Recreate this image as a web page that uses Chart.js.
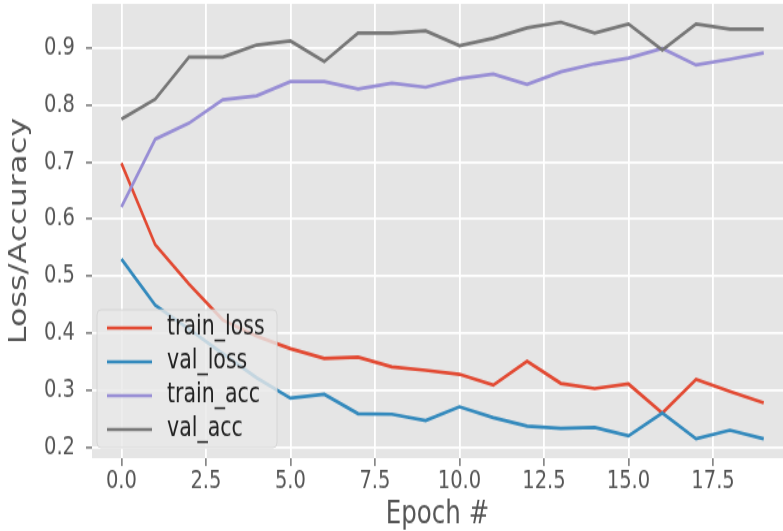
<!DOCTYPE html>
<html>
<head>
<meta charset="utf-8">
<script src="https://cdn.jsdelivr.net/npm/chart.js@4.4.1/dist/chart.umd.min.js"></script>
<style>
  html, body { margin: 0; padding: 0; background: #fff; }
  body { width: 783px; height: 531px; }
  #wrap { width: 783px; height: 408px; transform: scaleY(1.3015); transform-origin: 0 0; }
</style>
</head>
<body>
<div id="wrap"><canvas id="lossChart" width="783" height="408"></canvas></div>
<script>
const epochs = [0, 1, 2, 3, 4, 5, 6, 7, 8, 9, 10, 11, 12, 13, 14, 15, 16, 17, 18, 19];
const trainLoss = [0.698, 0.555, 0.486, 0.423, 0.395, 0.373, 0.356, 0.358, 0.341, 0.335, 0.328, 0.309, 0.351, 0.312, 0.303, 0.311, 0.260, 0.319, 0.298, 0.278];
const valLoss = [0.530, 0.449, 0.407, 0.364, 0.322, 0.286, 0.293, 0.259, 0.258, 0.247, 0.271, 0.252, 0.237, 0.233, 0.235, 0.220, 0.260, 0.215, 0.230, 0.215];
const trainAcc = [0.621, 0.740, 0.768, 0.809, 0.816, 0.841, 0.841, 0.828, 0.838, 0.831, 0.846, 0.854, 0.836, 0.858, 0.872, 0.882, 0.899, 0.870, 0.880, 0.891];
const valAcc = [0.775, 0.810, 0.884, 0.884, 0.905, 0.912, 0.876, 0.926, 0.926, 0.930, 0.904, 0.917, 0.935, 0.945, 0.926, 0.942, 0.896, 0.942, 0.933, 0.933];
const xTicks = [0, 2.5, 5, 7.5, 10, 12.5, 15, 17.5];
const yTicks = [0.2, 0.3, 0.4, 0.5, 0.6, 0.7, 0.8, 0.9];

const FONT = "'DejaVu Sans', sans-serif";

function series(label, values, color, order) {
    return {
        label: label,
        data: epochs.map((e, i) => ({ x: e, y: values[i] })),
        borderColor: color,
        backgroundColor: color,
        borderWidth: 2.7,
        pointRadius: 0,
        tension: 0,
        order: order
    };
}

// grey panel behind the plot, like the ggplot style
const panelBg = {
    id: 'panelBg',
    beforeDraw(chart) {
        const { ctx, chartArea: a } = chart;
        ctx.save();
        ctx.fillStyle = '#E5E5E5';
        ctx.fillRect(a.left, a.top, a.right - a.left, a.bottom - a.top);
        ctx.restore();
    }
};

// legend box sitting inside the plot, lower left
const innerLegend = {
    id: 'innerLegend',
    afterDatasetsDraw(chart) {
        const { ctx, chartArea: a } = chart;
        const sets = chart.data.datasets;
        const x0 = a.left + 5, w = 180, rowH = 26;
        const h = rowH * sets.length + 2;
        const y0 = a.bottom - 8 - h;
        ctx.save();
        ctx.beginPath();
        ctx.roundRect(x0, y0, w, h, 4);
        ctx.fillStyle = 'rgba(232,232,232,0.8)';
        ctx.fill();
        ctx.strokeStyle = 'rgba(210,210,210,0.8)';
        ctx.lineWidth = 1;
        ctx.stroke();
        ctx.font = '20.5px ' + FONT;
        ctx.textBaseline = 'middle';
        sets.forEach((ds, i) => {
            const cy = y0 + 14 + i * rowH;
            ctx.strokeStyle = ds.borderColor;
            ctx.lineWidth = 2.7;
            ctx.beginPath();
            ctx.moveTo(x0 + 10, cy);
            ctx.lineTo(x0 + 55, cy);
            ctx.stroke();
            ctx.fillStyle = '#222';
            ctx.fillText(ds.label, x0 + 70, cy);
        });
        ctx.restore();
    }
};

new Chart(document.getElementById('lossChart'), {
    type: 'line',
    data: {
        datasets: [
            series('train_loss', trainLoss, '#E24A33', 3),
            series('val_loss', valLoss, '#348ABD', 2),
            series('train_acc', trainAcc, '#988ED5', 1),
            series('val_acc', valAcc, '#777777', 0)
        ]
    },
    options: {
        responsive: false,
        animation: false,
        devicePixelRatio: 1,
        layout: { padding: { top: 3, right: 0, bottom: 0, left: 0 } },
        plugins: {
            legend: { display: false },
            tooltip: { enabled: false }
        },
        scales: {
            x: {
                type: 'linear',
                min: -0.87,
                max: 19.57,
                afterBuildTicks: s => { s.ticks = xTicks.map(v => ({ value: v })); },
                afterFit: s => { s.height = 56; s.paddingLeft = 0; s.paddingRight = 0; },
                border: { display: false },
                grid: { color: '#FFFFFF', lineWidth: 1.8, tickColor: '#555555', tickLength: 6, tickWidth: 1.2 },
                ticks: {
                    color: '#555555',
                    font: { family: FONT, size: 19.5 },
                    padding: 0,
                    maxRotation: 0,
                    callback: v => v.toFixed(1)
                },
                title: {
                    display: true,
                    text: 'Epoch #',
                    color: '#555555',
                    font: { family: FONT, size: 24.5, lineHeight: 1 },
                    padding: { top: 0, bottom: 0 }
                }
            },
            y: {
                min: 0.181,
                max: 0.977,
                afterBuildTicks: s => { s.ticks = yTicks.map(v => ({ value: v })); },
                afterFit: s => { s.width = 92; s.paddingTop = 0; s.paddingBottom = 0; },
                border: { display: false },
                grid: { color: '#FFFFFF', lineWidth: 1.8, tickColor: '#555555', tickLength: 6, tickWidth: 1.2 },
                ticks: {
                    color: '#555555',
                    font: { family: FONT, size: 19.5 },
                    padding: 11,
                    callback: v => v.toFixed(1)
                },
                title: {
                    display: true,
                    text: 'Loss/Accuracy',
                    color: '#555555',
                    font: { family: FONT, size: 24.5, lineHeight: 1 },
                    padding: { top: 7, bottom: 0 }
                }
            }
        }
    },
    plugins: [panelBg, innerLegend]
});
</script>
</body>
</html>
